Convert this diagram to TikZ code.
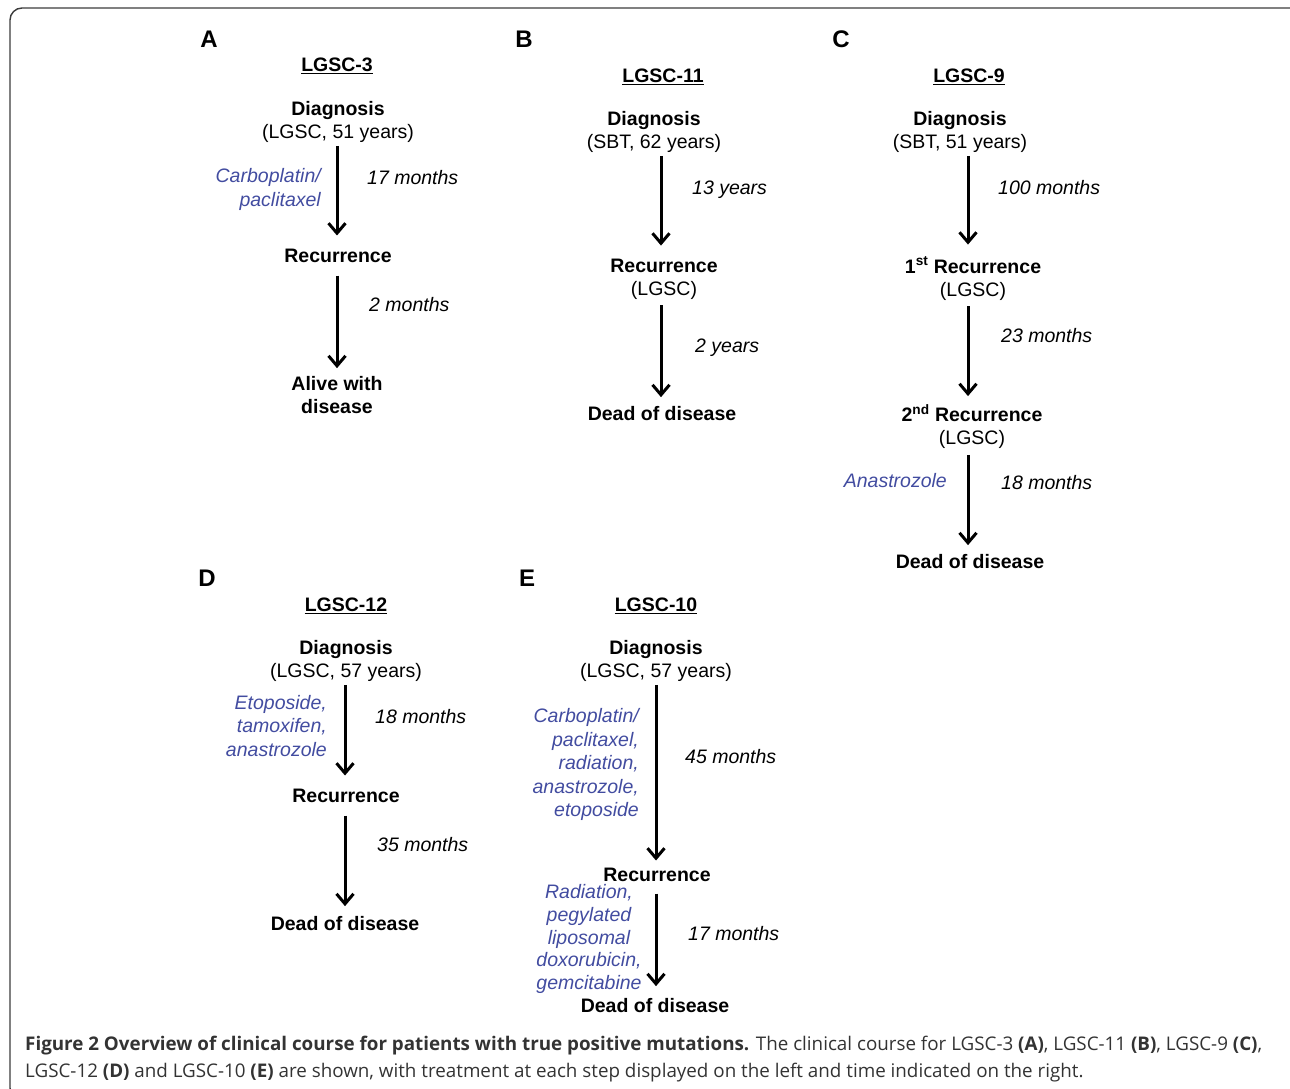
\documentclass[tikz,border=0pt]{standalone}
\usepackage{fontspec}
\setmainfont{Liberation Sans}
\newfontfamily\capfont{Open Sans}
\usetikzlibrary{positioning,arrows.meta,calc}

\definecolor{drugblue}{RGB}{66,76,160}
\definecolor{framegray}{RGB}{60,60,60}

\tikzset{
  txt/.style={inner sep=0pt, font=\fontsize{19.5}{23.5}\selectfont},
  stage/.style={inner sep=0pt, align=center, font=\fontsize{19.5}{23}\selectfont\bfseries},
  title/.style={inner sep=0pt, font=\fontsize{19.5}{23.5}\selectfont\bfseries},
  panel/.style={inner sep=0pt, font=\fontsize{24}{28}\selectfont\bfseries},
  dur/.style={txt, anchor=west, font=\fontsize{19.5}{23.5}\selectfont\itshape},
  treat/.style={txt, anchor=east, align=right, text=drugblue, font=\fontsize{19.5}{23.5}\selectfont\itshape},
  flow/.style={line width=3pt, -{Straight Barb[length=10pt,width=17pt]}},
  gap/.style 2 args={shorten <=#1pt, shorten >=#2pt},
  uline/.style={line width=1.7pt}
}

\begin{document}
\begin{tikzpicture}[x=1pt, y=-1pt]
  \useasboundingbox (0,0) rectangle (1290,1089);
  \draw[framegray, line width=1.4pt, rounded corners=12pt] (10,8) rectangle (1304,1100);

  % axes of the five time lines
  \coordinate (axA) at (337,0);
  \coordinate (axB) at (661,0);
  \coordinate (axC) at (968,0);
  \coordinate (axD) at (345,0);
  \coordinate (axE) at (656,0);

  % A
  \node[panel] (pA) at (209,39.5) {A};
  \node[title] (tA) at (337,64.5) {LGSC-3};
  \node[stage] (dA) at (338,122) {Diagnosis\\\mdseries(LGSC, 51 years)};
  \node[stage] (rA) at (338,255.5) {Recurrence};
  \node[stage] (eA) at (337,395) {Alive with\\disease};
  \node[treat] (mA) at (321,189.5) {Carboplatin/\\paclitaxel};
  \node[dur] (lA1) at (367,177.5) {17 months};
  \node[dur] (lA2) at (369,304.5) {2 months};
  \draw[flow, gap={3}{13}] (dA.south -| axA) -- (rA.north -| axA);
  \draw[flow, gap={13}{8}] (rA.south -| axA) -- (eA.north -| axA);

  % B
  \node[panel] (pB) at (524,39.5) {B};
  \node[title] (tB) at (663,75.5) {LGSC-11};
  \node[stage] (dB) at (654,132) {Diagnosis\\\mdseries(SBT, 62 years)};
  \node[stage] (rB) at (664,279) {Recurrence\\\mdseries(LGSC)};
  \node[stage] (eB) at (662,413.5) {Dead of disease};
  \node[dur] (lB1) at (692,189.5) {13 years};
  \node[dur] (lB2) at (695,347.5) {2 years};
  \draw[flow, gap={3}{13}] (dB.south -| axB) -- (rB.north -| axB);
  \draw[flow, gap={6}{9}] (rB.south -| axB) -- (eB.north -| axB);

  % C
  \node[panel] (pC) at (841,39.5) {C};
  \node[title] (tC) at (969,75.5) {LGSC-9};
  \node[stage] (dC) at (960,132) {Diagnosis\\\mdseries(SBT, 51 years)};
  \node[stage] (rC1) at (973,278.5) {1\textsuperscript{st} Recurrence\\\mdseries(LGSC)};
  \node[stage] (rC2) at (972,426.5) {2\textsuperscript{nd} Recurrence\\\mdseries(LGSC)};
  \node[stage] (eC) at (970,561.5) {Dead of disease};
  \node[treat] (mC) at (947,480.5) {Anastrozole};
  \node[dur] (lC1) at (998,187.5) {100 months};
  \node[dur] (lC2) at (1001,335.5) {23 months};
  \node[dur] (lC3) at (1001,482.5) {18 months};
  \draw[flow, gap={3}{12}] (dC.south -| axC) -- (rC1.north -| axC);
  \draw[flow, gap={6}{8}] (rC1.south -| axC) -- (rC2.north -| axC);
  \draw[flow, gap={6}{9}] (rC2.south -| axC) -- (eC.north -| axC);

  % D
  \node[panel] (pD) at (207,578.5) {D};
  \node[title] (tD) at (346,604.5) {LGSC-12};
  \node[stage] (dD) at (346,661) {Diagnosis\\\mdseries(LGSC, 57 years)};
  \node[stage] (rD) at (346,795.5) {Recurrence};
  \node[stage] (eD) at (345,923.5) {Dead of disease};
  \node[treat] (mD) at (327,726) {Etoposide,\\tamoxifen,\\anastrozole};
  \node[dur] (lD1) at (375,716.5) {18 months};
  \node[dur] (lD2) at (377,844.5) {35 months};
  \draw[flow, gap={3}{13}] (dD.south -| axD) -- (rD.north -| axD);
  \draw[flow, gap={13}{10}] (rD.south -| axD) -- (eD.north -| axD);

  % E
  \node[panel] (pE) at (527,578.5) {E};
  \node[title] (tE) at (656,604.5) {LGSC-10};
  \node[stage] (dE) at (656,661) {Diagnosis\\\mdseries(LGSC, 57 years)};
  \node[stage] (rE) at (657,874.5) {Recurrence};
  \node[stage] (eE) at (655,1005.5) {Dead of disease};
  \node[treat] (mE1) at (639,764.5) {Carboplatin/\\paclitaxel,\\radiation,\\anastrozole,\\etoposide};
  \node[treat, anchor=center, align=center, font=\fontsize{19.5}{22.75}\selectfont\itshape]
    (mE2) at (589,939) {Radiation,\\pegylated\\liposomal\\doxorubicin,\\gemcitabine};
  \node[dur] (lE1) at (685,756.5) {45 months};
  \node[dur] (lE2) at (688,933.5) {17 months};
  \draw[flow, gap={3}{7}] (dE.south -| axE) -- (rE.north -| axE);
  \draw[flow, gap={12}{12}] (rE.south -| axE) -- (eE.north -| axE);

  % underlined headers
  \foreach \t in {tA,tB,tC,tD,tE}
    \draw[uline] ([yshift=-2pt]\t.south west) -- ([yshift=-2pt]\t.south east);

  % caption
  \node[anchor=base west, inner sep=0pt, text=black!80, font=\capfont\fontsize{18.8}{22}\selectfont] (cap1) at (25,1050.5)
    {\textbf{Figure 2 Overview of clinical course for patients with true positive mutations.} The clinical course for LGSC-3 \textbf{(A)}, LGSC-11 \textbf{(B)}, LGSC-9 \textbf{(C)},};
  \node[anchor=base west, inner sep=0pt, text=black!80, font=\capfont\fontsize{18.8}{22}\selectfont] (cap2) at (25,1077.5)
    {LGSC-12 \textbf{(D)} and LGSC-10 \textbf{(E)} are shown, with treatment at each step displayed on the left and time indicated on the right.};
\end{tikzpicture}
\end{document}
